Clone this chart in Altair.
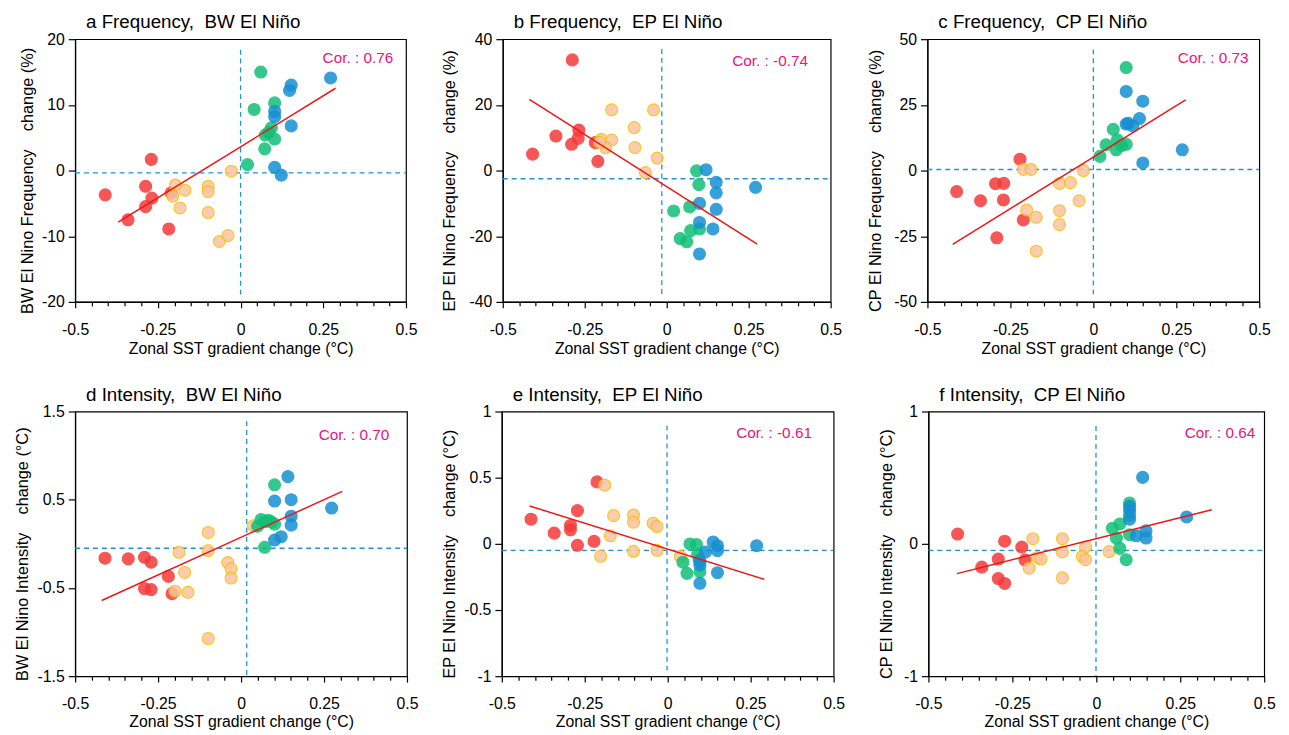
import altair as alt
import pandas as pd

FONT = "Liberation Sans"
GROUPS = ["r", "o", "g", "b"]
FILLS = ["#f43a3a", "#fcc3a3", "#12bf78", "#1590d2"]
STROKES = ["#f43a3a", "#f6c000", "#12bf78", "#1590d2"]
DASH = "#1f93d6"
REGC = "#f01515"
CORC = "#e8157a"

XT = [-0.5, -0.45, -0.4, -0.35, -0.3, -0.25, -0.2, -0.15, -0.1, -0.05, 0.0,
      0.05, 0.1, 0.15, 0.2, 0.25, 0.3, 0.35, 0.4, 0.45, 0.5]

# ---------------- panel a : Frequency, BW
A_X = [-0.409, -0.270, -0.287, -0.268, -0.287, -0.340, -0.217, -0.210,
       -0.197, -0.205, -0.168, -0.183, -0.098, -0.098, -0.098, -0.028, -0.064, -0.038,
       0.061, 0.041, 0.103, 0.093, 0.075, 0.103, 0.073, 0.021, 0.085,
       0.272, 0.153, 0.148, 0.103, 0.103, 0.153, 0.103, 0.123]
A_Y = [-3.7, 1.7, -2.4, -4.2, -5.5, -7.5, -8.9, -3.4,
       -2.2, -3.9, -3.0, -5.7, -2.4, -3.2, -6.4, -0.1, -10.8, -9.9,
       15.0, 9.3, 10.3, 6.5, 5.4, 4.8, 3.3, 0.9, 5.8,
       14.1, 13.0, 12.2, 9.0, 8.2, 6.8, 0.5, -0.7]
A_G = ["r"] * 8 + ["o"] * 10 + ["g"] * 9 + ["b"] * 8

# ---------------- panel b : Frequency, EP
B_X = [-0.288, -0.268, -0.270, -0.338, -0.290, -0.409, -0.218, -0.210,
       -0.168, -0.040, -0.099, -0.200, -0.168, -0.186, -0.097, -0.029, -0.065, -0.205,
       0.091, 0.098, 0.021, 0.070, 0.073, 0.100, 0.041, 0.061,
       0.120, 0.151, 0.151, 0.271, 0.100, 0.151, 0.100, 0.141, 0.100]
B_Y = [33.7, 12.3, 9.8, 10.5, 8.0, 5.0, 8.5, 2.8,
       18.5, 18.5, 13.1, 9.5, 9.3, 7.0, 7.0, 3.8, -0.6, 8.6,
       -0.1, -4.3, -12.3, -11.1, -18.3, -17.8, -20.7, -21.7,
       0.25, -3.6, -6.8, -5.1, -10.0, -11.8, -15.8, -17.8, -25.4]
B_G = ["r"] * 8 + ["o"] * 10 + ["g"] * 8 + ["b"] * 9

# ---------------- panel c : Frequency, CP
C_X = [-0.412, -0.340, -0.295, -0.270, -0.271, -0.221, -0.211, -0.291,
       -0.211, -0.188, -0.102, -0.069, -0.030, -0.043, -0.201, -0.172, -0.102, -0.102, -0.172,
       0.099, 0.060, 0.038, 0.072, 0.069, 0.099, 0.020, 0.085,
       0.099, 0.149, 0.139, 0.099, 0.119, 0.149, 0.268, 0.105]
C_Y = [-8.0, -11.5, -5.0, -4.9, -11.2, 4.3, -18.8, -25.6,
       0.4, 0.4, -4.9, -4.6, 0.0, -11.5, -15.0, -17.8, -15.3, -20.6, -30.7,
       39.2, 15.7, 9.8, 11.7, 7.9, 10.0, 5.4, 9.5,
       30.1, 26.4, 19.8, 17.7, 17.0, 2.9, 7.9, 18.0]
C_G = ["r"] * 8 + ["o"] * 11 + ["g"] * 8 + ["b"] * 8

# ---------------- panel d : Intensity, BW
D_X = [-0.410, -0.340, -0.291, -0.271, -0.291, -0.271, -0.219, -0.208,
       -0.187, -0.199, -0.170, -0.160, -0.099, -0.099, -0.099, -0.040, -0.030, -0.030, 0.037,
       0.101, 0.060, 0.050, 0.081, 0.101, 0.071, 0.091, 0.070,
       0.141, 0.101, 0.151, 0.273, 0.151, 0.151, 0.121, 0.101]
D_Y = [-0.163, -0.170, -0.152, -0.208, -0.507, -0.519, -0.369, -0.564,
       -0.096, -0.537, -0.324, -0.549, 0.129, -0.077, -1.073, -0.212, -0.283, -0.388, 0.204,
       0.669, 0.275, 0.200, 0.268, 0.223, -0.039, 0.250, 0.250,
       0.762, 0.485, 0.500, 0.406, 0.313, 0.212, 0.081, 0.043]
D_G = ["r"] * 8 + ["o"] * 11 + ["g"] * 8 + ["b"] * 8

# ---------------- panel e : Intensity, EP
E_X = [-0.412, -0.342, -0.293, -0.293, -0.272, -0.272, -0.222, -0.213,
       -0.190, -0.163, -0.103, -0.103, -0.173, -0.202, -0.103, -0.044, -0.032, -0.032, 0.038,
       0.067, 0.087, 0.090, 0.046, 0.058, 0.097, 0.095,
       0.137, 0.150, 0.150, 0.114, 0.268, 0.097, 0.150, 0.097, 0.097]
E_Y = [0.186, 0.081, 0.139, 0.106, 0.251, -0.011, 0.019, 0.468,
       0.443, 0.213, 0.218, 0.164, 0.061, -0.094, -0.056, 0.156, 0.131, -0.049, -0.094,
       -0.001, -0.006, -0.081, -0.139, -0.223, -0.211, -0.120,
       0.014, -0.014, -0.051, -0.061, -0.014, -0.161, -0.218, -0.298, -0.130]
E_G = ["r"] * 8 + ["o"] * 11 + ["g"] * 7 + ["b"] * 9

# ---------------- panel f : Intensity, CP
F_X = [-0.413, -0.341, -0.292, -0.292, -0.273, -0.273, -0.222, -0.212,
       -0.189, -0.200, -0.175, -0.165, -0.101, -0.101, -0.101, -0.032, -0.042, -0.032, 0.038,
       0.099, 0.099, 0.070, 0.048, 0.060, 0.099, 0.070, 0.089,
       0.138, 0.099, 0.099, 0.269, 0.119, 0.148, 0.148, 0.099]
F_Y = [0.074, -0.176, -0.115, -0.262, -0.299, 0.020, -0.025, -0.123,
       0.039, -0.184, -0.103, -0.115, 0.039, -0.061, -0.257, -0.025, -0.096, -0.120, -0.059,
       0.309, 0.216, 0.150, 0.118, 0.044, 0.069, -0.034, -0.120,
       0.502, 0.284, 0.186, 0.203, 0.061, 0.098, 0.044, 0.250]
F_G = ["r"] * 8 + ["o"] * 11 + ["g"] * 8 + ["b"] * 8

# regression line end points (x, y) per panel
REG_X = {"a": [-0.370, 0.287], "b": [-0.419, 0.276], "c": [-0.424, 0.278],
         "d": [-0.420, 0.305], "e": [-0.416, 0.291], "f": [-0.415, 0.344]}
REG_Y = {"a": [-7.87, 12.53], "b": [21.7, -22.4], "c": [-28.1, 26.9],
         "d": [-0.642, 0.594], "e": [0.286, -0.268], "f": [-0.225, 0.257]}
# dashed reference lines: vertical x, its y extent, horizontal y
V_X = {"a": 0.0, "b": -0.015, "c": 0.0, "d": 0.017, "e": -0.002, "f": -0.001}
V_Y = {"a": [18.4, -18.9], "b": [37.0, -38.0], "c": [46.1, -47.2],
       "d": [1.39, -1.49], "e": [0.893, -0.98], "f": [0.89, -0.998]}
H_Y = {"a": -0.35, "b": -2.5, "c": 0.4, "d": -0.05, "e": -0.05, "f": -0.05}
COR = {"a": "Cor. : 0.76", "b": "Cor. : -0.74", "c": "Cor. : 0.73",
       "d": "Cor. : 0.70", "e": "Cor. : -0.61", "f": "Cor. : 0.64"}
NB = "\u00a0"
TITLES = {"a": "a Frequency," + NB * 2 + "BW El Niño", "b": "b Frequency," + NB * 2 + "EP El Niño",
          "c": "c Frequency," + NB * 2 + "CP El Niño", "d": "d Intensity," + NB * 2 + "BW El Niño",
          "e": "e Intensity," + NB * 2 + "EP El Niño", "f": "f Intensity," + NB * 2 + "CP El Niño"}
YTITLES = {"a": "BW El Nino Frequency" + NB * 4 + "change (%)",
           "b": "EP El Nino Frequency" + NB * 4 + "change (%)",
           "c": "CP El Nino Frequency" + NB * 4 + "change (%)",
           "d": "BW El Nino Intensity" + NB * 4 + "change (°C)",
           "e": "EP El Nino Intensity" + NB * 4 + "change (°C)",
           "f": "CP El Nino Intensity" + NB * 4 + "change (°C)"}
YDOM = {"a": [-20, 20], "b": [-40, 40], "c": [-50, 50],
        "d": [-1.5, 1.5], "e": [-1, 1], "f": [-1, 1]}
YTICKS = {"a": [-20, -10, 0, 10, 20], "b": [-40, -20, 0, 20, 40],
          "c": [-50, -25, 0, 25, 50], "d": [-1.5, -0.5, 0.5, 1.5],
          "e": [-1, -0.5, 0, 0.5, 1], "f": [-1, 0, 1]}

# layout (positions / sizes only)
SIZE = {"a": (335, 266), "b": (332, 266), "c": (336, 266),
        "d": (336, 268), "e": (336, 268), "f": (340, 268)}
TPAD = {"a": 6, "b": 12, "c": 10, "d": 7, "e": 6, "f": 9}
XTPAD = {"a": 3, "b": 3, "c": 3, "d": 2, "e": 2, "f": 2}
CORPOS = {"a": (13, 24), "b": (23, 27), "c": (11, 24),
          "d": (18, 29), "e": (22, 27), "f": (9, 27)}

MAJ = "abs(datum.value*4 - round(datum.value*4)) < 0.001"


def panel(k, xs, ys, gs):
    w, h = SIZE[k]
    pts = pd.DataFrame({"x": xs, "y": ys, "g": gs})
    pts["o"] = pts["g"].map({g: i for i, g in enumerate(GROUPS)})
    pts = pts.sort_values("o", kind="stable")

    xaxis = alt.Axis(values=XT, title="Zonal SST gradient change (°C)",
                     labelExpr=MAJ + " ? (abs(datum.value) < 0.001 ? '0' : toString(datum.value)) : ''",
                     tickSize={"condition": {"test": MAJ, "value": 6}, "value": 4},
                     labelFlush=False, labelOverlap=False, grid=False,
                     labelPadding=14, titlePadding=XTPAD[k], titleFontSize=16)
    yaxis = alt.Axis(values=YTICKS[k], title=YTITLES[k], labelExpr="toString(datum.value)",
                     tickSize=7, labelFlush=False, labelOverlap=False, grid=False,
                     labelPadding=4, titlePadding=TPAD[k], titleFontSize=16.5,
                     titleY=h / 2 + 10)
    X = alt.X("x:Q", scale=alt.Scale(domain=[-0.5, 0.5], nice=False, zero=False), axis=xaxis)
    Y = alt.Y("y:Q", scale=alt.Scale(domain=YDOM[k], nice=False, zero=False), axis=yaxis)

    hline = alt.Chart(pd.DataFrame({"y": [H_Y[k]]})).mark_rule(
        color=DASH, strokeDash=[5, 4], strokeWidth=1.3).encode(
        y=Y, x=alt.value(0), x2=alt.value(w))
    vline = alt.Chart(pd.DataFrame({"x": [V_X[k]], "y": [V_Y[k][0]], "y2": [V_Y[k][1]]})).mark_rule(
        color=DASH, strokeDash=[5, 4], strokeWidth=1.3).encode(
        x=X, y=Y, y2="y2:Q")
    points = alt.Chart(pts).mark_circle(size=145, opacity=0.85, strokeWidth=1.2).encode(
        x=X, y=Y,
        fill=alt.Fill("g:N", scale=alt.Scale(domain=GROUPS, range=FILLS), legend=None),
        stroke=alt.Stroke("g:N", scale=alt.Scale(domain=GROUPS, range=STROKES), legend=None),
    )
    reg = alt.Chart(pd.DataFrame({"x": REG_X[k], "y": REG_Y[k]})).mark_line(
        color=REGC, strokeWidth=1.5).encode(x=X, y=Y)
    txt = alt.Chart(pd.DataFrame({"t": [COR[k]]})).mark_text(
        color=CORC, fontSize=15.5, align="right", baseline="alphabetic", font=FONT).encode(
        text="t:N", x=alt.value(w - CORPOS[k][0]), y=alt.value(CORPOS[k][1]))
    ttl = alt.Chart(pd.DataFrame({"t": [TITLES[k]]})).mark_text(
        color="black", fontSize=19, align="left", baseline="alphabetic", font=FONT).encode(
        text="t:N", x=alt.value(11), y=alt.value(-11))
    return alt.layer(hline, vline, points, reg, txt, ttl).properties(width=w, height=h)


pa = panel("a", A_X, A_Y, A_G)
pb = panel("b", B_X, B_Y, B_G)
pc = panel("c", C_X, C_Y, C_G)
pd_ = panel("d", D_X, D_Y, D_G)
pe = panel("e", E_X, E_Y, E_G)
pf = panel("f", F_X, F_Y, F_G)

row1 = alt.hconcat(pa, pb, pc, spacing=98, bounds="flush")
row2 = alt.hconcat(pd_, pe, pf, spacing=96, bounds="flush")

chart = alt.vconcat(row1, row2, spacing=28).properties(
    background="white",
    padding={"left": 5, "top": 0, "right": 5, "bottom": 2},
).configure_view(
    stroke="black", strokeWidth=1.2
).configure_axis(
    labelFont=FONT, titleFont=FONT, labelFontSize=16,
    labelColor="black", titleColor="black", titleFontWeight="normal",
    domainColor="black", tickColor="black", domainWidth=1.2, tickWidth=1.2,
)

chart.save("out.html", embed_options={"renderer": "svg", "actions": False})
